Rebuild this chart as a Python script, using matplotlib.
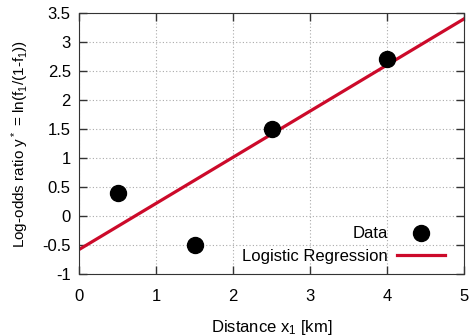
import matplotlib
matplotlib.use("Agg")
import matplotlib.pyplot as plt

plt.rcParams['font.family'] = ['Liberation Sans', 'DejaVu Sans']
plt.rcParams['mathtext.default'] = 'regular'
plt.rcParams['font.size'] = 12

# data
dist_km = [0.5, 1.5, 2.5, 4.0]
log_odds = [0.4, -0.5, 1.5, 2.7]
fit_x = [0, 5]
fit_y = [-0.58, 3.40]
x_ticks = [0, 1, 2, 3, 4, 5]
y_ticks = [-1, -0.5, 0, 0.5, 1, 1.5, 2, 2.5, 3, 3.5]

fig = plt.figure(figsize=(4.71, 3.36), dpi=100)
ax = fig.add_axes([0.168, 0.185, 0.817, 0.776])

ax.plot(dist_km, log_odds, 'o', color='black', markersize=11.5, label='Data', zorder=3)
ax.plot(fit_x, fit_y, '-', color='#cc0a2a', linewidth=2.3, label='Logistic Regression', zorder=2)

ax.set_xlim(0, 5)
ax.set_ylim(-1, 3.5)
ax.set_xticks(x_ticks)
ax.set_yticks(y_ticks)
ax.set_yticklabels([f'{v:g}' for v in y_ticks])
ax.tick_params(direction='in', top=True, right=True, length=6, width=1, color='#333333')
ax.tick_params(axis='x', pad=11)
ax.tick_params(axis='y', pad=6)
ax.grid(True, linestyle=(0, (1, 2)), color='#aaaaaa', linewidth=0.8)
for s in ax.spines.values():
    s.set_color('#333333')

ax.set_xlabel('Distance x$_1$ [km]', labelpad=10)
ax.set_ylabel('Log-odds ratio y$^*$ = ln(f$_1$/(1-f$_1$))', fontsize=11, labelpad=8)

ax.legend(loc='lower right', frameon=False, markerfirst=False, handlelength=2.9,
          bbox_to_anchor=(0.977, 0.0), labelspacing=0.45, handletextpad=0.55, borderaxespad=0.2)

fig.savefig('out.png', dpi=100)
